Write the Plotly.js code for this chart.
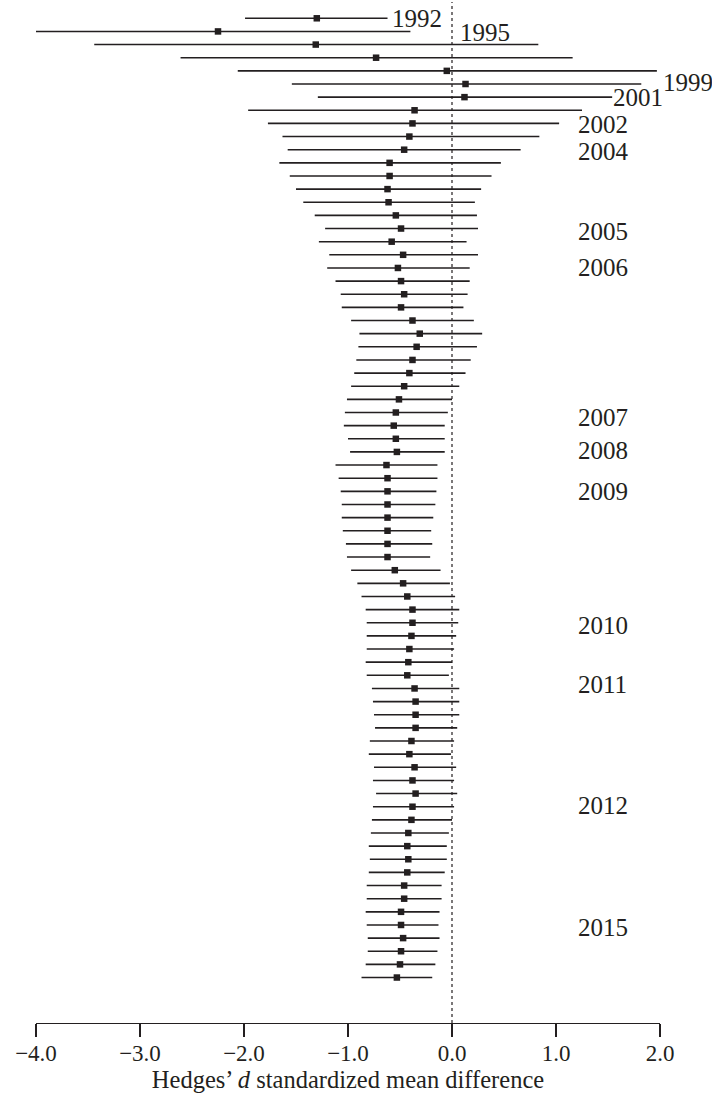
<!DOCTYPE html>
<html>
<head>
<meta charset="utf-8">
<script src="https://cdn.plot.ly/plotly-3.0.1.min.js"></script>
<style>
  html, body { margin: 0; padding: 0; background: #fff; }
  #chart { width: 712px; height: 1103px; }
</style>
</head>
<body>
<div id="chart"></div>
<script>
// Cumulative meta-analysis: pooled Hedges' d with 95% CI as each study is added (rows top to bottom)
const estimate = [
  -1.30, -2.25, -1.31, -0.73, -0.05, 0.13, 0.12, -0.36, -0.38, -0.41, -0.46, -0.60,
  -0.60, -0.62, -0.61, -0.54, -0.49, -0.58, -0.47, -0.52, -0.49, -0.46, -0.49, -0.38,
  -0.31, -0.34, -0.38, -0.41, -0.46, -0.51, -0.54, -0.56, -0.54, -0.53, -0.63, -0.62,
  -0.62, -0.62, -0.62, -0.62, -0.62, -0.62, -0.55, -0.47, -0.43, -0.38, -0.38, -0.39,
  -0.41, -0.42, -0.43, -0.36, -0.35, -0.35, -0.35, -0.39, -0.41, -0.36, -0.38, -0.35,
  -0.38, -0.39, -0.42, -0.43, -0.42, -0.43, -0.46, -0.46, -0.49, -0.49, -0.47, -0.49,
  -0.50, -0.53
];
const lower = [
  -1.99, -4.00, -3.44, -2.61, -2.06, -1.54, -1.29, -1.96, -1.77, -1.63, -1.58, -1.66,
  -1.56, -1.50, -1.43, -1.32, -1.22, -1.28, -1.18, -1.20, -1.12, -1.07, -1.06, -0.97,
  -0.89, -0.90, -0.92, -0.94, -0.97, -1.01, -1.03, -1.04, -1.00, -0.98, -1.12, -1.09,
  -1.07, -1.06, -1.06, -1.05, -1.02, -1.01, -0.97, -0.91, -0.87, -0.83, -0.82, -0.82,
  -0.82, -0.83, -0.82, -0.77, -0.76, -0.75, -0.74, -0.79, -0.80, -0.75, -0.76, -0.73,
  -0.76, -0.77, -0.78, -0.80, -0.79, -0.80, -0.82, -0.82, -0.83, -0.82, -0.81, -0.81,
  -0.83, -0.87
];
const upper = [
  -0.62, -0.40, 0.83, 1.16, 1.97, 1.82, 1.54, 1.25, 1.03, 0.84, 0.66, 0.47,
  0.38, 0.28, 0.22, 0.24, 0.25, 0.14, 0.25, 0.17, 0.17, 0.15, 0.11, 0.21,
  0.29, 0.24, 0.18, 0.13, 0.07, 0.00, -0.04, -0.07, -0.07, -0.07, -0.14, -0.14,
  -0.15, -0.16, -0.18, -0.20, -0.19, -0.21, -0.11, -0.02, 0.03, 0.07, 0.06, 0.04,
  0.02, 0.00, -0.03, 0.07, 0.07, 0.07, 0.05, 0.02, -0.01, 0.04, 0.02, 0.05,
  0.02, 0.00, -0.03, -0.05, -0.05, -0.07, -0.10, -0.10, -0.12, -0.13, -0.12, -0.14,
  -0.16, -0.19
];

// Publication years marked beside the rows where they begin
const yearLabels = ['1992', '1995', '1999', '2001', '2002', '2004', '2005', '2006',
                    '2007', '2008', '2009', '2010', '2011', '2012', '2015'];
const yearRows   = [1.05, 2.1, 5.9, 7.0, 9.1, 11.1, 17.2, 20.0,
                    31.4, 33.9, 37.0, 47.2, 51.7, 60.9, 70.2];
const yearLabelX = [-0.58, 0.08, 2.03, 1.55, 1.21, 1.21, 1.21, 1.21,
                    1.21, 1.21, 1.21, 1.21, 1.21, 1.21, 1.21];

const xRange = [-4, 2];
const rows = estimate.map((_, i) => i + 1);
const ink = '#231f20';
const serif = '"Liberation Serif", "DejaVu Serif", serif';

const trace = {
  type: 'scatter',
  mode: 'markers',
  x: estimate,
  y: rows,
  marker: { symbol: 'square', size: 6.5, color: ink },
  error_x: {
    type: 'data',
    symmetric: false,
    array: upper.map((u, i) => u - estimate[i]),
    arrayminus: lower.map((l, i) => estimate[i] - l),
    width: 0,
    thickness: 1.6,
    color: ink
  },
  cliponaxis: false,
  hoverinfo: 'x+y',
  showlegend: false
};

// Year labels use paper x so the ones past the right end of the axis stay visible
const toPaperX = v => (v - xRange[0]) / (xRange[1] - xRange[0]);
const annotations = yearLabels.map((t, i) => ({
  x: toPaperX(yearLabelX[i]), y: yearRows[i], xref: 'paper', yref: 'y',
  text: t, showarrow: false, xanchor: 'left', yanchor: 'middle',
  xshift: -2,
  font: { family: serif, size: 25, color: ink }
}));

const layout = {
  width: 712,
  height: 1103,
  margin: { l: 36, r: 52, t: 2, b: 80 },
  paper_bgcolor: '#fff',
  plot_bgcolor: '#fff',
  font: { family: serif, color: ink },
  xaxis: {
    range: xRange,
    tickvals: [-4, -3, -2, -1, 0, 1, 2],
    tickformat: '.1f',
    ticks: 'outside',
    ticklen: 13,
    tickwidth: 1.2,
    tickcolor: ink,
    ticklabelstandoff: -4,
    showline: true,
    linecolor: ink,
    linewidth: 1.2,
    showgrid: false,
    zeroline: false,
    tickfont: { family: serif, size: 23, color: ink },
    title: {
      text: 'Hedges\u2019 <i>d</i> standardized mean difference',
      font: { family: serif, size: 24.5, color: ink },
      standoff: 6
    }
  },
  yaxis: {
    range: [77.46, -0.24],
    visible: false,
    showgrid: false,
    zeroline: false
  },
  shapes: [{
    type: 'line', xref: 'x', yref: 'paper',
    x0: 0, x1: 0, y0: 0, y1: 1,
    line: { color: ink, width: 1.2, dash: 'dot' }
  }],
  annotations: annotations
};

Plotly.newPlot('chart', [trace], layout, { staticPlot: true, displayModeBar: false });
</script>
</body>
</html>
